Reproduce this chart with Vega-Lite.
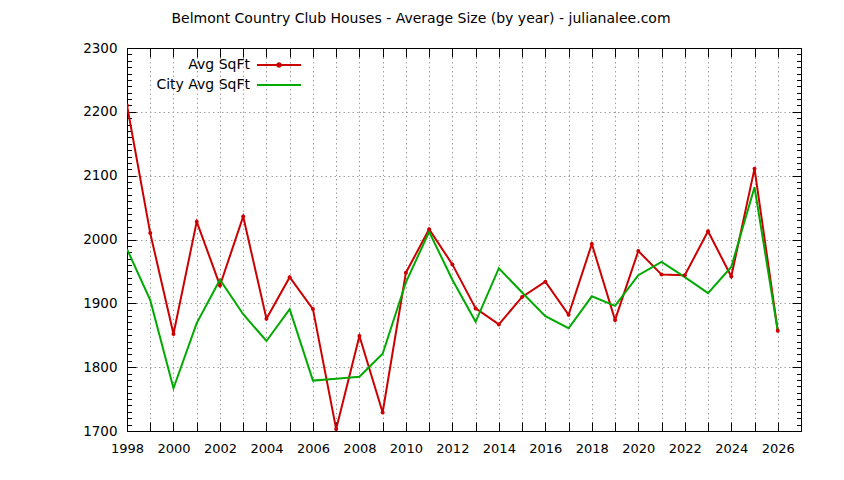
{
  "$schema": "https://vega.github.io/schema/vega-lite/v6.json",
  "width": 674,
  "height": 383,
  "autosize": {"type": "none"},
  "padding": {"left": 127, "top": 48, "right": 43, "bottom": 49},
  "background": "white",
  "title": {
    "text": "Belmont Country Club Houses - Average Size (by year) - julianalee.com",
    "anchor": "middle",
    "dx": -43,
    "offset": 15,
    "font": "DejaVu Sans",
    "fontSize": 14,
    "fontWeight": "normal",
    "color": "black"
  },
  "data": {
    "values": [
      {"year": 1998, "series": "Avg SqFt", "sqft": 2210},
      {"year": 1999, "series": "Avg SqFt", "sqft": 2010},
      {"year": 2000, "series": "Avg SqFt", "sqft": 1852},
      {"year": 2001, "series": "Avg SqFt", "sqft": 2028},
      {"year": 2002, "series": "Avg SqFt", "sqft": 1928},
      {"year": 2003, "series": "Avg SqFt", "sqft": 2036},
      {"year": 2004, "series": "Avg SqFt", "sqft": 1876},
      {"year": 2005, "series": "Avg SqFt", "sqft": 1941},
      {"year": 2006, "series": "Avg SqFt", "sqft": 1891},
      {"year": 2007, "series": "Avg SqFt", "sqft": 1703},
      {"year": 2008, "series": "Avg SqFt", "sqft": 1849},
      {"year": 2009, "series": "Avg SqFt", "sqft": 1729},
      {"year": 2010, "series": "Avg SqFt", "sqft": 1948},
      {"year": 2011, "series": "Avg SqFt", "sqft": 2016},
      {"year": 2012, "series": "Avg SqFt", "sqft": 1961},
      {"year": 2013, "series": "Avg SqFt", "sqft": 1892},
      {"year": 2014, "series": "Avg SqFt", "sqft": 1867},
      {"year": 2015, "series": "Avg SqFt", "sqft": 1910},
      {"year": 2016, "series": "Avg SqFt", "sqft": 1934},
      {"year": 2017, "series": "Avg SqFt", "sqft": 1882},
      {"year": 2018, "series": "Avg SqFt", "sqft": 1993},
      {"year": 2019, "series": "Avg SqFt", "sqft": 1874},
      {"year": 2020, "series": "Avg SqFt", "sqft": 1982},
      {"year": 2021, "series": "Avg SqFt", "sqft": 1945},
      {"year": 2022, "series": "Avg SqFt", "sqft": 1944},
      {"year": 2023, "series": "Avg SqFt", "sqft": 2013},
      {"year": 2024, "series": "Avg SqFt", "sqft": 1942},
      {"year": 2025, "series": "Avg SqFt", "sqft": 2111},
      {"year": 2026, "series": "Avg SqFt", "sqft": 1857},
      {"year": 1998, "series": "City Avg SqFt", "sqft": 1985},
      {"year": 1999, "series": "City Avg SqFt", "sqft": 1905},
      {"year": 2000, "series": "City Avg SqFt", "sqft": 1767},
      {"year": 2001, "series": "City Avg SqFt", "sqft": 1869},
      {"year": 2002, "series": "City Avg SqFt", "sqft": 1937},
      {"year": 2003, "series": "City Avg SqFt", "sqft": 1883},
      {"year": 2004, "series": "City Avg SqFt", "sqft": 1841},
      {"year": 2005, "series": "City Avg SqFt", "sqft": 1891},
      {"year": 2006, "series": "City Avg SqFt", "sqft": 1779},
      {"year": 2007, "series": "City Avg SqFt", "sqft": 1782},
      {"year": 2008, "series": "City Avg SqFt", "sqft": 1785},
      {"year": 2009, "series": "City Avg SqFt", "sqft": 1821},
      {"year": 2010, "series": "City Avg SqFt", "sqft": 1933},
      {"year": 2011, "series": "City Avg SqFt", "sqft": 2012},
      {"year": 2012, "series": "City Avg SqFt", "sqft": 1937},
      {"year": 2013, "series": "City Avg SqFt", "sqft": 1871},
      {"year": 2014, "series": "City Avg SqFt", "sqft": 1955},
      {"year": 2015, "series": "City Avg SqFt", "sqft": 1917},
      {"year": 2016, "series": "City Avg SqFt", "sqft": 1880},
      {"year": 2017, "series": "City Avg SqFt", "sqft": 1861},
      {"year": 2018, "series": "City Avg SqFt", "sqft": 1911},
      {"year": 2019, "series": "City Avg SqFt", "sqft": 1896},
      {"year": 2020, "series": "City Avg SqFt", "sqft": 1944},
      {"year": 2021, "series": "City Avg SqFt", "sqft": 1965},
      {"year": 2022, "series": "City Avg SqFt", "sqft": 1941},
      {"year": 2023, "series": "City Avg SqFt", "sqft": 1916},
      {"year": 2024, "series": "City Avg SqFt", "sqft": 1957},
      {"year": 2025, "series": "City Avg SqFt", "sqft": 2082},
      {"year": 2026, "series": "City Avg SqFt", "sqft": 1857}
    ]
  },
  "layer": [
    {
      "mark": {"type": "line", "strokeWidth": 2, "clip": true},
      "encoding": {
        "x": {
          "field": "year",
          "type": "quantitative",
          "scale": {"domain": [1998, 2027], "nice": false, "zero": false},
          "axis": {
            "orient": "bottom",
            "title": null,
            "format": "d",
            "values": [1998, 1999, 2000, 2001, 2002, 2003, 2004, 2005, 2006, 2007, 2008, 2009, 2010, 2011, 2012, 2013, 2014, 2015, 2016, 2017, 2018, 2019, 2020, 2021, 2022, 2023, 2024, 2025, 2026, 2027],
            "labelExpr": "datum.value % 2 === 0 ? datum.label : ''",
            "tickSize": -9,
            "labelPadding": 20,
            "labelFlush": false,
            "labelOverlap": false,
            "grid": true
          }
        },
        "y": {
          "field": "sqft",
          "type": "quantitative",
          "scale": {"domain": [1700, 2300], "nice": false, "zero": false},
          "axis": {
            "orient": "left",
            "title": null,
            "format": "d",
            "values": [1700, 1710, 1720, 1730, 1740, 1750, 1760, 1770, 1780, 1790, 1800, 1810, 1820, 1830, 1840, 1850, 1860, 1870, 1880, 1890, 1900, 1910, 1920, 1930, 1940, 1950, 1960, 1970, 1980, 1990, 2000, 2010, 2020, 2030, 2040, 2050, 2060, 2070, 2080, 2090, 2100, 2110, 2120, 2130, 2140, 2150, 2160, 2170, 2180, 2190, 2200, 2210, 2220, 2230, 2240, 2250, 2260, 2270, 2280, 2290, 2300],
            "labelExpr": "datum.value % 100 === 0 ? datum.label : ''",
            "tickSize": {"condition": {"test": "datum.value % 100 === 0", "value": -9}, "value": -4.5},
            "gridOpacity": {"condition": {"test": "datum.value % 100 === 0", "value": 1}, "value": 0},
            "labelPadding": 19,
            "labelFontSize": 13.5,
            "labelFlush": false,
            "labelOverlap": false,
            "grid": true
          }
        },
        "color": {
          "field": "series",
          "type": "nominal",
          "scale": {"domain": ["Avg SqFt", "City Avg SqFt"], "range": ["#cc0000", "#00aa00"]},
          "legend": {
            "title": null,
            "orient": "none",
            "legendX": 145,
            "legendY": 10,
            "padding": 0,
            "symbolType": "stroke",
            "symbolSize": 100,
            "symbolStrokeWidth": 2,
            "rowPadding": 6,
            "labelAlign": "right",
            "labelOffset": -36,
            "labelFont": "DejaVu Sans",
            "labelFontSize": 14,
            "labelColor": "black",
            "encode": {
              "symbols": {
                "update": {
                  "shape": {"signal": "datum.value === 'Avg SqFt' ? 'M-4.4,0H4.4M-0.35,0A0.35,0.35 0 1,1 0.35,0A0.35,0.35 0 1,1 -0.35,0Z' : 'M-4.4,0H4.4'"},
                  "fill": {"signal": "datum.value === 'Avg SqFt' ? '#cc0000' : 'transparent'"},
                  "stroke": {"signal": "datum.value === 'Avg SqFt' ? '#cc0000' : '#00aa00'"},
                  "strokeWidth": {"value": 2},
                  "opacity": {"value": 1}
                }
              }
            }
          }
        }
      }
    },
    {
      "transform": [{"filter": "datum.series === 'Avg SqFt'"}],
      "mark": {"type": "point", "filled": true, "size": 16, "opacity": 1, "clip": true},
      "encoding": {
        "x": {"field": "year", "type": "quantitative", "axis": null},
        "y": {"field": "sqft", "type": "quantitative", "axis": null},
        "color": {"value": "#cc0000"}
      }
    },
    {
      "mark": {"type": "line", "opacity": 0},
      "encoding": {
        "x": {
          "field": "year",
          "type": "quantitative",
          "axis": {
            "orient": "top",
            "title": null,
            "values": [1998, 1999, 2000, 2001, 2002, 2003, 2004, 2005, 2006, 2007, 2008, 2009, 2010, 2011, 2012, 2013, 2014, 2015, 2016, 2017, 2018, 2019, 2020, 2021, 2022, 2023, 2024, 2025, 2026, 2027],
            "labels": false,
            "tickSize": -9,
            "grid": false
          }
        },
        "y": {
          "field": "sqft",
          "type": "quantitative",
          "axis": {
            "orient": "right",
            "title": null,
            "values": [1700, 1710, 1720, 1730, 1740, 1750, 1760, 1770, 1780, 1790, 1800, 1810, 1820, 1830, 1840, 1850, 1860, 1870, 1880, 1890, 1900, 1910, 1920, 1930, 1940, 1950, 1960, 1970, 1980, 1990, 2000, 2010, 2020, 2030, 2040, 2050, 2060, 2070, 2080, 2090, 2100, 2110, 2120, 2130, 2140, 2150, 2160, 2170, 2180, 2190, 2200, 2210, 2220, 2230, 2240, 2250, 2260, 2270, 2280, 2290, 2300],
            "labels": false,
            "tickSize": {"condition": {"test": "datum.value % 100 === 0", "value": -9}, "value": -4.5},
            "grid": false
          }
        }
      }
    }
  ],
  "resolve": {"axis": {"x": "independent", "y": "independent"}},
  "config": {
    "view": {"stroke": null},
    "axis": {
      "labelFont": "DejaVu Sans",
      "labelFontSize": 13,
      "labelColor": "black",
      "tickColor": "black",
      "tickWidth": 1,
      "domainColor": "black",
      "domainWidth": 1,
      "gridColor": "#a0a0a0",
      "gridDash": [1.5, 3],
      "gridWidth": 1
    }
  }
}
